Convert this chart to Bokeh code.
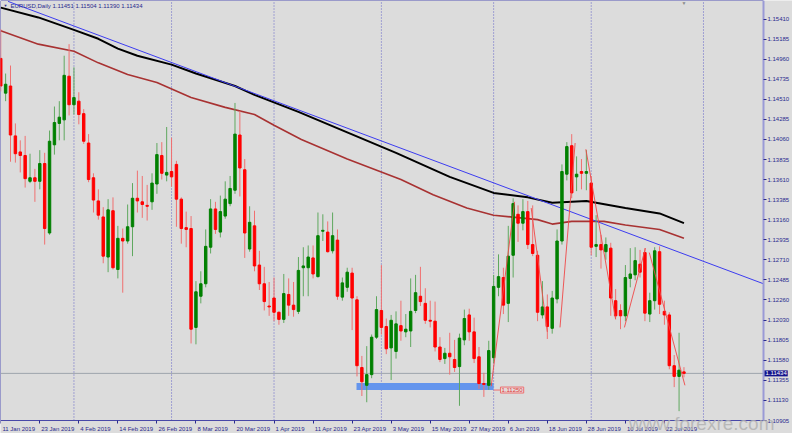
import pandas as pd
from bokeh.plotting import figure
from bokeh.models import (Range1d, LinearAxis, FixedTicker, Label,
                          ColumnDataSource, NumeralTickFormatter)
from bokeh.embed import file_html
from bokeh.resources import INLINE

# ---------------- data ----------------
symbol = "EURUSD,Daily"
first_day = "2019-01-11"
last_day = "2019-07-26"

opens = [1.1497,1.1458,1.1466,1.1410,1.1392,1.1388,1.1359,1.1363,1.1359,1.1379,
 1.1301,1.1400,1.1424,1.1428,1.1477,1.1445,1.1449,1.1435,1.1402,1.1363,
 1.1337,1.1319,1.1274,1.1326,1.1260,1.1295,1.1292,1.1308,1.1340,1.1336,
 1.1332,1.1336,1.1356,1.1388,1.1366,1.1370,1.1378,1.1339,1.1307,1.1306,
 1.1195,1.1230,1.1244,1.1285,1.1328,1.1302,1.1320,1.1334,1.1349,1.1411,
 1.1372,1.1283,1.1309,1.1265,1.1244,1.1219,1.1228,1.1212,1.1204,1.1232,
 1.1220,1.1213,1.1262,1.1262,1.1273,1.1252,1.1303,1.1302,1.1281,1.1293,
 1.1229,1.1240,1.1256,1.1226,1.1150,1.1130,1.1142,1.1184,1.1214,1.1196,
 1.1172,1.1168,1.1197,1.1190,1.1191,1.1214,1.1230,1.1222,1.1203,1.1202,
 1.1173,1.1160,1.1166,1.1159,1.1151,1.1181,1.1209,1.1190,1.1162,1.1132,
 1.1130,1.1161,1.1240,1.1251,1.1222,1.1276,1.1322,1.1312,1.1325,1.1288,
 1.1276,1.1209,1.1218,1.1194,1.1227,1.1292,1.1367,1.1399,1.1364,1.1370,
 1.1368,1.1357,1.1286,1.1288,1.1280,1.1284,1.1225,1.1214,1.1208,1.1250,
 1.1254,1.1266,1.1279,1.1210,1.1225,1.1280,1.1213,1.1209,1.1152,1.1140,
 1.11451]
highs = [1.1530,1.1480,1.1489,1.1424,1.1405,1.1410,1.1390,1.1373,1.1394,1.1391,
 1.1416,1.1443,1.1449,1.1500,1.1513,1.1487,1.1459,1.1440,1.1412,1.1368,
 1.1350,1.1330,1.1339,1.1341,1.1309,1.1306,1.1333,1.1357,1.1371,1.1365,
 1.1355,1.1368,1.1402,1.1403,1.1420,1.1408,1.1382,1.1341,1.1325,1.1320,
 1.1247,1.1258,1.1305,1.1339,1.1336,1.1343,1.1359,1.1365,1.1447,1.1438,
 1.1384,1.1331,1.1326,1.1281,1.1263,1.1246,1.1251,1.1213,1.1255,1.1250,
 1.1246,1.1274,1.1285,1.1287,1.1287,1.1324,1.1322,1.1314,1.1324,1.1305,
 1.1251,1.1262,1.1262,1.1230,1.1163,1.1174,1.1187,1.1230,1.1265,1.1205,
 1.1209,1.1213,1.1225,1.1210,1.1250,1.1254,1.1263,1.1239,1.1225,1.1224,
 1.1184,1.1172,1.1189,1.1181,1.1188,1.1215,1.1216,1.1206,1.1173,1.1144,
 1.1180,1.1254,1.1277,1.1262,1.1309,1.1340,1.1332,1.1339,1.1337,1.1332,
 1.1281,1.1247,1.1232,1.1236,1.1305,1.1378,1.1403,1.1412,1.1387,1.1384,
 1.1394,1.1365,1.1321,1.1299,1.1296,1.1290,1.1238,1.1221,1.1265,1.1284,
 1.1285,1.1282,1.1284,1.1234,1.1285,1.1286,1.1225,1.1212,1.1164,1.1189,
 1.11504]
lows = [1.1460,1.1449,1.1381,1.1380,1.1369,1.1352,1.1357,1.1336,1.1350,1.1288,
 1.1299,1.1389,1.1405,1.1405,1.1433,1.1434,1.1423,1.1401,1.1358,1.1324,
 1.1316,1.1267,1.1257,1.1260,1.1250,1.1234,1.1289,1.1275,1.1324,1.1318,
 1.1315,1.1327,1.1345,1.1361,1.1359,1.1353,1.1308,1.1289,1.1285,1.1177,
 1.1176,1.1222,1.1240,1.1278,1.1300,1.1296,1.1317,1.1331,1.1345,1.1342,
 1.1273,1.1280,1.1258,1.1237,1.1214,1.1208,1.1202,1.1198,1.1200,1.1208,
 1.1207,1.1210,1.1230,1.1230,1.1250,1.1251,1.1292,1.1279,1.1278,1.1226,
 1.1225,1.1235,1.1192,1.1140,1.1118,1.1111,1.1138,1.1182,1.1187,1.1165,
 1.1136,1.1160,1.1180,1.1184,1.1173,1.1211,1.1219,1.1199,1.1195,1.1168,
 1.1156,1.1154,1.1142,1.1145,1.1107,1.1175,1.1180,1.1155,1.1126,1.1117,
 1.1125,1.1155,1.1230,1.1210,1.1201,1.1251,1.1291,1.1304,1.1283,1.1275,
 1.1202,1.1205,1.1182,1.1188,1.1222,1.1288,1.1360,1.1340,1.1348,1.1350,
 1.1349,1.1276,1.1274,1.1261,1.1271,1.1208,1.1205,1.1193,1.1202,1.1240,
 1.1248,1.1251,1.1202,1.1201,1.1215,1.1210,1.1198,1.1148,1.1128,1.1101,
 1.11390]
closes = [1.1466,1.1468,1.1411,1.1390,1.1388,1.1362,1.1363,1.1359,1.1379,1.1306,
 1.1404,1.1425,1.1431,1.1478,1.1445,1.1453,1.1434,1.1404,1.1361,1.1338,
 1.1321,1.1275,1.1327,1.1262,1.1295,1.1292,1.1308,1.1340,1.1337,1.1333,
 1.1331,1.1357,1.1389,1.1368,1.1369,1.1364,1.1339,1.1306,1.1305,1.1193,
 1.1235,1.1244,1.1286,1.1328,1.1305,1.1325,1.1339,1.1351,1.1412,1.1374,
 1.1301,1.1313,1.1264,1.1244,1.1224,1.1218,1.1212,1.1204,1.1233,1.1220,
 1.1215,1.1259,1.1264,1.1274,1.1255,1.1298,1.1304,1.1280,1.1298,1.1230,
 1.1245,1.1257,1.1228,1.1152,1.1134,1.1142,1.1184,1.1215,1.1195,1.1171,
 1.1203,1.1199,1.1191,1.1193,1.1213,1.1234,1.1224,1.1203,1.1202,1.1173,
 1.1159,1.1166,1.1162,1.1150,1.1183,1.1205,1.1190,1.1160,1.1132,1.1131,
 1.1169,1.1241,1.1252,1.1220,1.1275,1.1334,1.1312,1.1325,1.1288,1.1278,
 1.1212,1.1218,1.1196,1.1228,1.1292,1.1370,1.1398,1.1346,1.1367,1.1368,
 1.1370,1.1285,1.1288,1.1282,1.1288,1.1228,1.1208,1.1208,1.1251,1.1255,
 1.1270,1.1257,1.1211,1.1225,1.1281,1.1221,1.1209,1.1152,1.1140,1.1147,
 1.11434]

# moving averages (bar index, price)
ma_black_bars = [0, 7.7, 15, 20, 24, 28, 35, 40, 48, 52, 61, 71, 81, 92, 101, 108, 113, 120, 128, 135, 140]
ma_black_vals = [1.1554, 1.1543, 1.1529, 1.1519, 1.1508, 1.1500, 1.1490, 1.1480, 1.1466, 1.1456, 1.1437,
                 1.1414, 1.1391, 1.1364, 1.1346, 1.1341, 1.1335, 1.1337, 1.1329, 1.1323, 1.1312]
ma_red_bars = [0, 7.7, 15, 20, 26, 32, 39, 46, 52, 56, 61.6, 71, 82, 88.6, 95.5, 101, 110, 113, 117, 123.6, 128, 135, 140]
ma_red_vals = [1.1528, 1.1513, 1.1505, 1.1492, 1.1479, 1.1470, 1.1453, 1.1442, 1.1434, 1.1422, 1.1406,
               1.1384, 1.1361, 1.1344, 1.1329, 1.1321, 1.1316, 1.1311, 1.1314, 1.1314, 1.1310, 1.1305, 1.1295]

# trend line anchors
trend_bars = [1.5, 156.3]
trend_vals = [1.1561, 1.1244]

# support zone and its price label
zone_bars = [72.9, 101.0]
zone_low = 1.11247
zone_high = 1.11325
zone_label = "1.11250"

# thin red swing lines
zz_x0 = [100.5, 108.7, 114.6, 119.9, 127.8, 132.9]
zz_y0 = [1.1129, 1.1329, 1.1195, 1.1395, 1.1195, 1.1279]
zz_x1 = [105.3, 112.0, 117.7, 126.0, 132.1, 140.2]
zz_y1 = [1.1336, 1.1190, 1.1402, 1.1204, 1.1284, 1.1130]

date_tick_labels = ["11 Jan 2019", "23 Jan 2019", "4 Feb 2019", "14 Feb 2019", "26 Feb 2019",
                    "8 Mar 2019", "20 Mar 2019", "1 Apr 2019", "11 Apr 2019", "23 Apr 2019",
                    "3 May 2019", "15 May 2019", "27 May 2019", "6 Jun 2019", "18 Jun 2019",
                    "28 Jun 2019", "10 Jul 2019", "22 Jul 2019"]
price_ticks = [1.15410, 1.15185, 1.14960, 1.14735, 1.14510, 1.14285, 1.14060, 1.13835, 1.13610,
               1.13385, 1.13160, 1.12935, 1.12710, 1.12485, 1.12260, 1.12030, 1.11805, 1.11580,
               1.11355, 1.11130, 1.10905]
month_starts = ["2019-02-01", "2019-03-01", "2019-04-01", "2019-05-01", "2019-06-03", "2019-07-01", "2019-08-01"]
watermark = "www.forexre.com"

# ---------------- layout ----------------
X_START, X_END = -0.05, 156.3          # chart area (bars)
Y_START, Y_END = 1.10905, 1.15620      # chart area (price)
FIG_W, FIG_H = 792, 433
CHART_W, CHART_H = 763, 420            # chart area in pixels, axes live in the rest
px_per_bar = CHART_W / (X_END - X_START)
price_per_px = (Y_END - Y_START) / CHART_H
X_FULL_END = X_START + FIG_W / px_per_bar
Y_FULL_START = Y_START - (FIG_H - CHART_H) * price_per_px

all_days = pd.bdate_range(first_day, "2019-08-30")
day_pos = {d.strftime("%Y-%m-%d"): i for i, d in enumerate(all_days)}
n = len(pd.bdate_range(first_day, last_day))
idx = list(range(n))

NAVY = "#2a2a8e"
FRAME = "#4848a8"
FONT = "Liberation Sans"

p = figure(width=FIG_W, height=FIG_H, x_range=Range1d(X_START, X_FULL_END),
           y_range=Range1d(Y_FULL_START, Y_END),
           x_axis_type=None, y_axis_type=None, toolbar_location=None, output_backend="svg",
           min_border=0, min_border_left=0, min_border_top=0, min_border_right=0, min_border_bottom=0,
           background_fill_color="#dcdcdc", border_fill_color="#dcdcdc",
           outline_line_color=None)
p.grid.grid_line_color = None

# month separators
sep = [day_pos[m] for m in month_starts]
p.segment(x0=sep, x1=sep, y0=[Y_START] * len(sep), y1=[Y_END] * len(sep),
          line_color="#6464c8", line_dash="1 2", line_width=1)

# chart frame: left and top borders
p.segment(x0=[X_START, X_START], x1=[X_START, X_END], y0=[Y_START, Y_END], y1=[Y_END, Y_END],
          line_color=FRAME, line_width=1)

# moving averages
p.line(ma_red_bars, ma_red_vals, line_color="#a83232", line_width=1.6)
p.line(ma_black_bars, ma_black_vals, line_color="#000000", line_width=2)

# trend line
p.line(trend_bars, trend_vals, line_color="#3c3cf0", line_width=1)

# current price line
p.segment(x0=[X_START], x1=[X_END], y0=[closes[-1]], y1=[closes[-1]], line_color="#9ea4ac", line_width=1)

# support zone
p.quad(left=[zone_bars[0]], right=[zone_bars[1]], bottom=[zone_low], top=[zone_high],
       fill_color="#6495ed", line_color=None)
p.segment(x0=[zone_bars[1]], x1=[zone_bars[1] + 1.4], y0=[zone_low], y1=[zone_low],
          line_color="#ee7070", line_width=1)

# candles
bull = [c >= o for o, c in zip(opens, closes)]
src = ColumnDataSource(dict(
    x=idx, o=opens, h=highs, l=lows, c=closes,
    top=[max(o, c) for o, c in zip(opens, closes)],
    bot=[min(o, c) for o, c in zip(opens, closes)],
    body=["#008000" if b else "#ff0000" for b in bull],
    wick=["#5fa85f" if b else "#f07070" for b in bull],
))
p.segment(x0="x", x1="x", y0="l", y1="h", line_color="wick", line_width=1, source=src)
p.vbar(x="x", width=0.5, top="top", bottom="bot", fill_color="body", line_color="body",
       line_width=1, source=src)

# thin red swing lines
p.segment(x0=zz_x0, y0=zz_y0, x1=zz_x1, y1=zz_y1, line_color="#f04848", line_width=1, line_alpha=0.9)

# right price axis, pinned to the chart's right edge
yax = LinearAxis(ticker=FixedTicker(ticks=price_ticks), formatter=NumeralTickFormatter(format="0.00000"),
                 fixed_location=X_END, bounds=(Y_START, Y_END),
                 major_tick_out=3, major_tick_in=0, minor_tick_out=0, minor_tick_in=0,
                 axis_line_color="#9a9ad6", axis_line_width=2, major_tick_line_color=NAVY,
                 major_label_text_color=NAVY, major_label_text_font=FONT,
                 major_label_text_font_size="6px", major_label_standoff=1)
p.add_layout(yax, "right")

# bottom date axis (labels start at their tick, as in MT4)
W = {" ": 0.278, "J": 0.5, "F": 0.611, "M": 0.833, "A": 0.667, "r": 0.333, "l": 0.222, "y": 0.5}
def text_w(s, size=6):
    return sum(W.get(ch, 0.556) for ch in s) * size

tick_bars = [day_pos[pd.to_datetime(t, format="%d %b %Y").strftime("%Y-%m-%d")] for t in date_tick_labels]
label_pos = [round(b + (text_w(t) / 2 + 1.5) / px_per_bar, 2) for b, t in zip(tick_bars, date_tick_labels)]
overrides = {}
for pos, t in zip(label_pos, date_tick_labels):
    overrides[pos] = t
    overrides[repr(pos)] = t
xax = LinearAxis(ticker=FixedTicker(ticks=label_pos, minor_ticks=tick_bars),
                 major_label_overrides=overrides, fixed_location=Y_START, bounds=(X_START, X_END),
                 major_tick_out=0, major_tick_in=0, minor_tick_out=3, minor_tick_in=0,
                 minor_tick_line_color=NAVY, axis_line_color=FRAME,
                 major_label_text_color=NAVY, major_label_text_font=FONT,
                 major_label_text_font_size="6px", major_label_standoff=2)
p.add_layout(xax, "below")

# header text
p.add_layout(Label(x=X_START, y=Y_END, x_offset=3, y_offset=-5, text="\u25bc", text_font_size="4px",
                   text_color=NAVY, text_baseline="middle"))
head = "%s  %.5f %.5f %.5f %.5f" % (symbol, opens[-1], highs[-1], lows[-1], closes[-1])
p.add_layout(Label(x=X_START, y=Y_END, x_offset=10, y_offset=-5, text=head, text_font=FONT,
                   text_font_size="6px", text_color=NAVY, text_baseline="middle"))
# chart shift marker
p.add_layout(Label(x=idx[-1], y=Y_END, y_offset=1, text="\u25bc", text_font_size="5px",
                   text_color="#8a8a8a", text_align="center", text_baseline="top"))

# current price tag on the axis
p.add_layout(Label(x=X_END, y=closes[-1], x_offset=1, text="%.5f" % closes[-1], text_font=FONT,
                   text_font_size="6px", text_color="white", text_baseline="middle",
                   background_fill_color="#14148c", padding=1))
# zone price label
p.add_layout(Label(x=zone_bars[1] + 1.4, y=zone_low, text=zone_label, text_font=FONT,
                   text_font_size="6px", text_color="#e03a3a", text_baseline="middle",
                   background_fill_color="#e6d8d8", border_line_color="#ee7070", padding=1))

# watermark
p.add_layout(Label(x=X_END, y=Y_START, x_offset=11, y_offset=-3, text=watermark, text_font=FONT,
                   text_font_size="19px", text_color="#b2b2b2", text_align="right",
                   text_baseline="alphabetic", text_alpha=0.85))

open("out.html", "w").write(file_html(p, INLINE))
